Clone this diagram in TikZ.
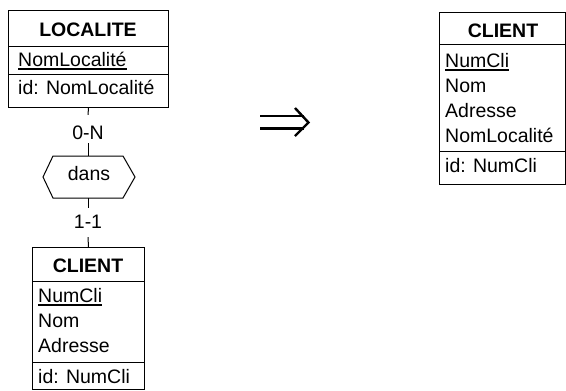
\documentclass[tikz,border=0pt]{standalone}
\usepackage{fontspec}
\setmainfont{Liberation Sans}
\newcommand\myul[1]{\setbox0\hbox{#1}\rlap{\rule[-3.6pt]{\wd0}{1.4pt}}\box0}
\begin{document}
\begin{tikzpicture}[x=1pt,y=-1pt,
  font=\fontsize{19.5}{23}\selectfont,
  ent/.style={draw, line width=1pt, inner sep=0pt, anchor=north west},
  txt/.style={inner sep=0pt, anchor=base west},
  ttl/.style={inner sep=0pt, anchor=base, font=\fontsize{19.5}{23}\selectfont\bfseries},
  conn/.style={line width=1pt},
  lab/.style={inner sep=0pt, anchor=base},
  dblarrow/.style={line width=2.4pt}]
\useasboundingbox (0,0) rectangle (566,391);
% LOCALITE
\node[ent, minimum width=160pt, minimum height=97pt] (loc) at (8,10) {};
\draw[line width=1pt] (8,46) -- (168,46) (8,74) -- (168,74);
\node[ttl] (locT) at (88,36) {LOCALITE};
\node[txt] (locA) at (18,66) {\myul{NomLocalité}};
\node[txt] (locI) at (18,94) {id: NomLocalité};
% relation
\draw[line width=1pt] (43,177) -- (53,156) -- (123,156) -- (135,177) -- (123,198) -- (53,198) -- cycle;
\coordinate (hextop) at (88,156);
\coordinate (hexbot) at (88,198);
\node[lab] (dans) at (89,180) {dans};
\node[lab, text height=24pt, text depth=4pt] (c0N) at (88,139) {0-N};
\node[lab, text height=20pt, text depth=9pt] (c11) at (88,228) {1-1};
% CLIENT left
\node[ent, minimum width=112pt, minimum height=142pt] (cli) at (32,247) {};
\draw[line width=1pt] (32,281) -- (144,281) (32,362) -- (144,362);
\node[ttl] (cliT) at (88,272) {CLIENT};
\node[txt] (cliA) at (38,302) {\myul{NumCli}};
\node[txt] (cliB) at (38,327) {Nom};
\node[txt] (cliC) at (38,352) {Adresse};
\node[txt] (cliI) at (38,383) {id: NumCli};
% connectors
\draw[conn] (loc.south) -- (c0N.north);
\draw[conn] (c0N.south) -- (hextop);
\draw[conn] (hexbot) -- (c11.north);
\draw[conn] (c11.south) -- (cli.north);
% implication arrow
\draw[dblarrow] (260,116) -- (304,116) (260,128.5) -- (304,128.5);
\draw[dblarrow, line join=miter] (295,108) -- (308.5,122.5) -- (295,136);
% CLIENT right
\node[ent, minimum width=126pt, minimum height=172pt] (cl2) at (439,12) {};
\draw[line width=1pt] (439,44) -- (565,44) (439,151) -- (565,151);
\node[ttl] (cl2T) at (503,37) {CLIENT};
\node[txt] (cl2A) at (445,67) {\myul{NumCli}};
\node[txt] (cl2B) at (445,92) {Nom};
\node[txt] (cl2C) at (445,117) {Adresse};
\node[txt] (cl2D) at (445,142) {NomLocalité};
\node[txt] (cl2I) at (445,172) {id: NumCli};
\end{tikzpicture}
\end{document}
